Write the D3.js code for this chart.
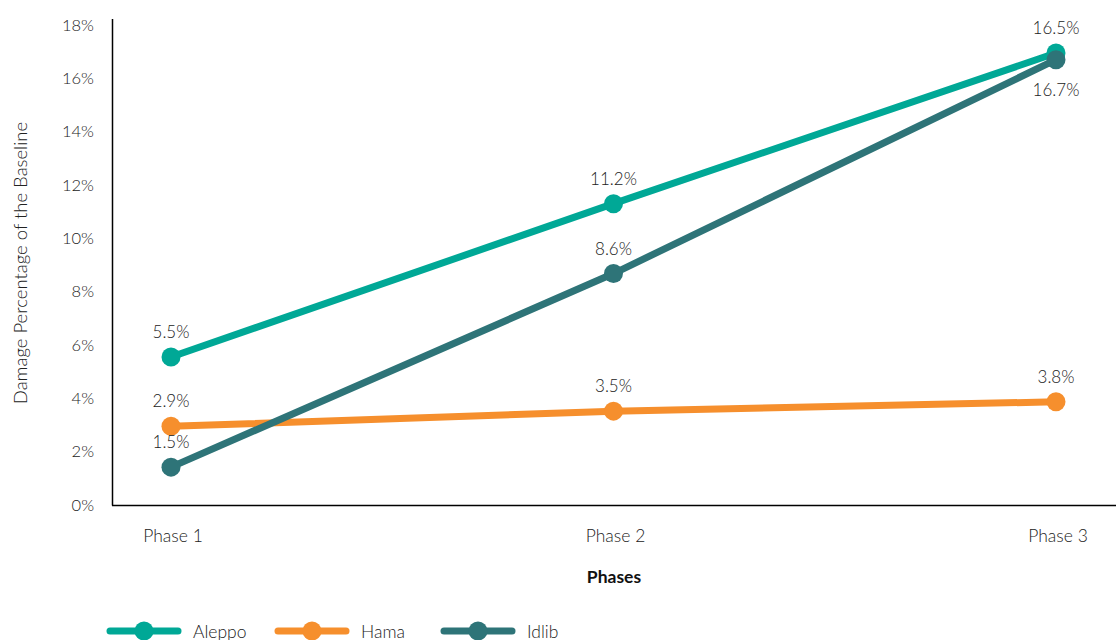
<!DOCTYPE html>
<html><head><meta charset="utf-8">
<script src="https://cdn.jsdelivr.net/npm/d3@7"></script>
<style>
body{margin:0;background:#fff;}
svg{font-family:"Century Gothic","Lato","Open Sans",sans-serif;font-weight:300;}
</style></head>
<body><svg id="c" width="1116" height="640"></svg>
<script>
const phases = ["Phase 1","Phase 2","Phase 3"];
const seriesNames = ["Aleppo","Hama","Idlib"];
const aleppoValues = [5.55, 11.3, 16.95];
const hamaValues = [2.95, 3.52, 3.87];
const idlibValues = [1.42, 8.68, 16.7];
const aleppoLabels = ["5.5%","11.2%","16.5%"];
const hamaLabels = ["2.9%","3.5%","3.8%"];
const idlibLabels = ["1.5%","8.6%","16.7%"];
const yTicks = [0,2,4,6,8,10,12,14,16,18];
const colors = ["#00a896","#f68f2d","#2e7478"];

const series = [
  {name: seriesNames[0], values: aleppoValues, labels: aleppoLabels, color: colors[0], below:[false,false,false]},
  {name: seriesNames[1], values: hamaValues, labels: hamaLabels, color: colors[1], below:[false,false,false]},
  {name: seriesNames[2], values: idlibValues, labels: idlibLabels, color: colors[2], below:[false,false,true]}
];

const svg = d3.select("#c");
const x = d3.scalePoint().domain(phases).range([171, 1056]);
const y = d3.scaleLinear().domain([0,18]).range([505, 25]);

svg.append("line").attr("x1",112.5).attr("x2",112.5).attr("y1",19).attr("y2",505.5)
  .attr("stroke","#000").attr("stroke-width",1.5);
svg.append("line").attr("x1",112).attr("x2",1116).attr("y1",505.5).attr("y2",505.5)
  .attr("stroke","#000").attr("stroke-width",1.5);

svg.append("g").selectAll("text").data(yTicks).join("text")
  .attr("x",94).attr("y",d=>y(d)).attr("dy","0.35em")
  .attr("text-anchor","end").attr("font-size",16.5).attr("fill","#222")
  .text(d=>d+"%");

svg.append("g").selectAll("text").data(phases).join("text")
  .attr("x",d=>x(d)+2).attr("y",542).attr("text-anchor","middle")
  .attr("font-size",17.5).attr("fill","#222").text(d=>d);

svg.append("text").attr("x",614).attr("y",583).attr("text-anchor","middle")
  .attr("font-size",17.5).attr("font-weight","bold").attr("fill","#111").text("Phases");
svg.append("text").attr("transform","translate(27,263) rotate(-90)")
  .attr("text-anchor","middle").attr("font-size",18.5).attr("fill","#222")
  .text("Damage Percentage of the Baseline");

const line = d3.line().x((d,i)=>x(phases[i])).y(d=>y(d));

series.forEach(s=>{
  svg.append("path").datum(s.values).attr("d",line).attr("fill","none")
    .attr("stroke",s.color).attr("stroke-width",7).attr("stroke-linecap","round");
});
series.forEach(s=>{
  svg.append("g").selectAll("circle").data(s.values).join("circle")
    .attr("cx",(d,i)=>x(phases[i])).attr("cy",d=>y(d)).attr("r",9.5).attr("fill",s.color);
});
series.forEach(s=>{
  svg.append("g").selectAll("text").data(s.values).join("text")
    .attr("x",(d,i)=>x(phases[i]))
    .attr("y",(d,i)=>s.below[i] ? y(d)+36 : y(d)-19)
    .attr("text-anchor","middle").attr("font-size",17).attr("fill","#222")
    .text((d,i)=>s.labels[i]);
});

const legX = [110, 278, 444];
const lg = svg.append("g").selectAll("g").data(series).join("g")
  .attr("transform",(d,i)=>`translate(${legX[i]},631)`);
lg.append("line").attr("x1",0).attr("x2",68).attr("y1",0).attr("y2",0)
  .attr("stroke",d=>d.color).attr("stroke-width",7).attr("stroke-linecap","round");
lg.append("circle").attr("cx",34).attr("cy",0).attr("r",9.5).attr("fill",d=>d.color);
lg.append("text").attr("x",83).attr("y",7).attr("font-size",17.5).attr("fill","#222").text(d=>d.name);
</script></body></html>
